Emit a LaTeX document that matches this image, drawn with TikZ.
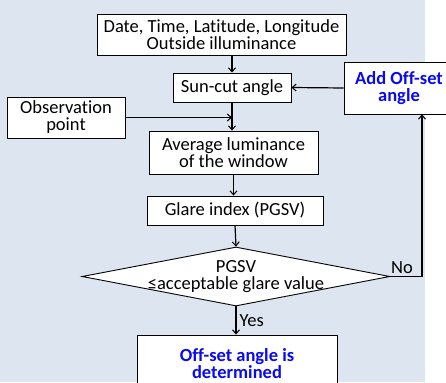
\documentclass[tikz,border=0pt]{standalone}
\usepackage{fontspec}
\setmainfont[Ligatures=NoCommon]{Carlito}
\usetikzlibrary{arrows.meta,shapes.geometric}
\definecolor{panel}{HTML}{DDE5F0}
\definecolor{hilite}{HTML}{0A0AF0}
\tikzset{
  box/.style={draw, fill=white, line width=0.9pt, inner sep=0pt, align=center,
    font=\fontsize{18.5}{17}\selectfont},
  decision/.style={draw, fill=white, line width=0.9pt, diamond, inner sep=0pt},
  flow/.style={line width=1.2pt, -{Straight Barb[length=4pt,width=7pt,line width=1pt]}},
  lbl/.style={font=\fontsize{18.5}{17}\selectfont, inner sep=0pt},
}
\begin{document}
\begin{tikzpicture}[x=1pt,y=-1pt]
\useasboundingbox (0,0) rectangle (446,382);
\begin{scope}
\clip (0,0) rectangle (446,382);
\fill[panel] (0,0) rectangle (425,382);

\node[box, minimum width=249pt, minimum height=41pt] (top) at (221.5,34.5)
  {Date, Time, Latitude, Longitude\\Outside illuminance};
\node[box, minimum width=118pt, minimum height=29pt] (sun) at (232,87.5) {Sun-cut angle};
\node[box, minimum width=118pt, minimum height=41pt] (obs) at (66,117.5) {Observation\\point};
\node[box, minimum width=169pt, minimum height=43pt] (avg) at (233.5,152.5)
  {Average luminance\\of the window};
\node[box, minimum width=110pt, minimum height=52pt, text=hilite, font=\fontsize{18.5}{17}\selectfont\bfseries]
  (add) at (399,88) {Add Off-set\\angle};
\node[box, minimum width=176pt, minimum height=29pt] (glare) at (235,210.5) {Glare index (PGSV)};
\node[decision, minimum width=308pt, minimum height=59pt] (chk) at (236,276.5) {};
\node[lbl, align=center] (chktxt) at (chk.center) {PGSV\\≤acceptable glare value};
\node[box, minimum width=200pt, minimum height=57pt, text=hilite, font=\fontsize{18.5}{17}\selectfont\bfseries]
  (done) at (237,363.5) {Off-set angle is\\determined};

\draw[flow] (top.south -| sun.north) -- (sun.north);
\draw[flow] (add.west) -- (sun.east);
\draw[flow] (sun.south) -- (sun.south |- avg.north);
\draw[flow] (obs.east) -- (obs.east -| sun.south);
\draw[flow] (avg.south) -- (avg.south |- glare.north);
\draw[flow] (glare.south) -- (chk.north);
\draw[flow] (chk.south) -- (chk.south |- done.north) node[lbl, midway, anchor=west, xshift=3pt] (yes) {Yes};
\draw[flow] (chk.east) -| ([xshift=23pt]add.south) node[lbl, pos=0.5, anchor=south, yshift=2pt, xshift=-20pt] (no) {No};
\end{scope}
\end{tikzpicture}
\end{document}
